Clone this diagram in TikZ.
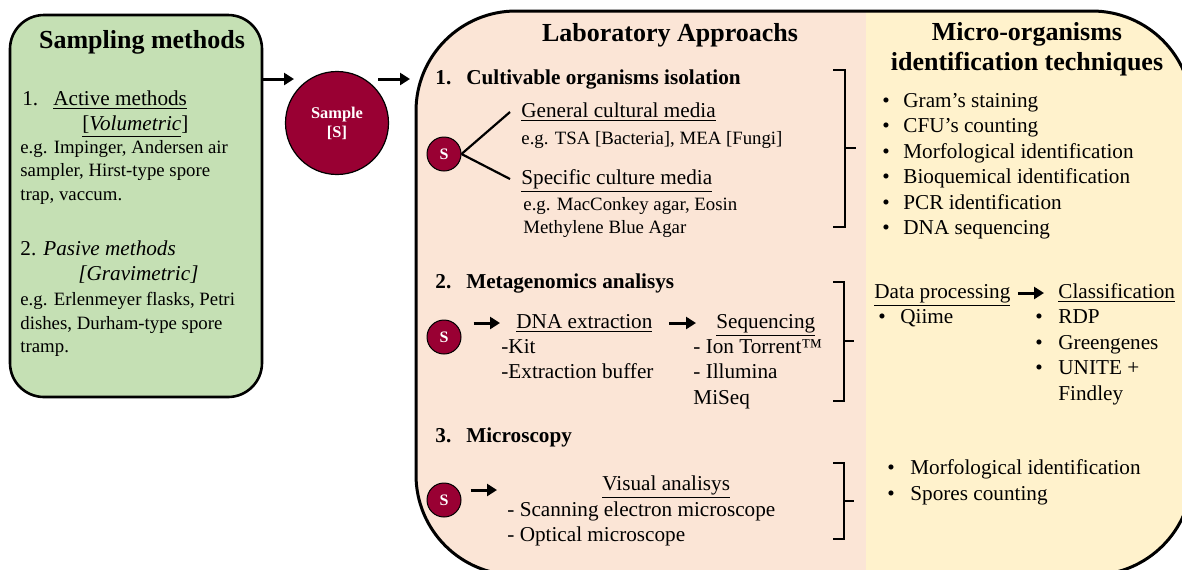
\documentclass[tikz,border=0pt]{standalone}
\usepackage{fontspec}
\setmainfont{Liberation Serif}
\usepackage{tikz}
\usetikzlibrary{arrows.meta,positioning,calc}
\definecolor{sampgreen}{HTML}{C5E0B4}
\definecolor{labpink}{HTML}{FBE5D6}
\definecolor{techyellow}{HTML}{FFF2CC}
\definecolor{samplered}{HTML}{990033}
\newcommand{\bul}[1][11.5pt]{\makebox[#1][l]{\textbullet}}

\begin{document}
\begin{tikzpicture}[x=0.5pt,y=-0.5pt,
  every node/.style={font=\fontsize{10.6}{12.75}\selectfont},
  hdr/.style={font=\fontsize{13}{15}\selectfont\bfseries, align=center},
  txt/.style={anchor=west, inner sep=0pt, text height=7.5pt, text depth=2.2pt},
  sec/.style={txt, font=\fontsize{10.6}{12.75}\selectfont\bfseries},
  lst/.style={anchor=north west, inner sep=0pt, align=left},
  eg/.style={font=\fontsize{9.4}{11.75}\selectfont},
  sdot/.style={circle, draw=black, line width=0.5pt, fill=samplered, text=white,
    minimum size=17pt, inner sep=0pt, font=\fontsize{8}{9}\selectfont\bfseries},
  arr/.style={line width=1.5pt, -{Triangle[length=5pt,width=6pt]}},
  brk/.style={line width=1pt}]
\useasboundingbox (0,0) rectangle (1182,569);

% sampling box
\node[draw, line width=1.3pt, fill=sampgreen, rounded corners=17pt,
  minimum width=126pt, minimum height=191pt] (sampling) at (136,206) {};
\node[hdr] (samphdr) at (142,42) {Sampling methods};
\node[txt] (act) at (22,100) {1.\hspace{7.5pt}\underline{Active methods}};
\node[txt] (vol) at (82,125) {\underline{[\textit{Volumetric}}]};
\node[lst, eg] (actex) at (20,140)
  {e.g. Impinger, Andersen air\\sampler, Hirst-type spore\\trap, vaccum.};
\node[txt] (pas) at (20,250) {2. \textit{Pasive methods}};
\node[txt] (grav) at (78,275) {\textit{[Gravimetric]}};
\node[lst, eg] (pasex) at (20,292)
  {e.g. Erlenmeyer flasks, Petri\\dishes, Durham-type spore\\tramp.};

% sample
\node[circle, draw=black, line width=0.6pt, fill=samplered, text=white, minimum size=51.5pt,
  align=center, font=\fontsize{8.2}{9.5}\selectfont\bfseries] (sample) at (337,123) {Sample\\{[S]}};
\coordinate (in1) at (294,79);
\coordinate (out1) at (378,79);
\coordinate (in2) at (410,79);
\draw[arr] (sampling.east |- in1) -- (in1);
\draw[arr] (out1) -- (in2);

% laboratory box
\begin{scope}
\clip (0,0) rectangle (1182,569);
\begin{scope}
\clip[rounded corners=50pt] (416,11) rectangle (1192,575);
\fill[labpink] (416,11) rectangle (866,575);
\fill[techyellow] (866,11) rectangle (1192,575);
\end{scope}
\draw[line width=1.5pt, rounded corners=50pt] (416,11) rectangle (1192,575);
\end{scope}
\node[hdr] (labhdr) at (670,35) {Laboratory Approachs};

% 1. cultivable
\node[sec] (cult) at (435,79) {1.\hspace{7.5pt}Cultivable organisms isolation};
\node[sdot] (s1) at (444,154) {S};
\node[txt] (gen) at (521,112) {\underline{General cultural media}};
\node[txt, eg] (genex) at (521,139) {e.g. TSA [Bacteria], MEA [Fungi]};
\node[txt] (spec) at (521,179) {\underline{Specific culture media}};
\node[lst, font=\fontsize{9.4}{11.3}\selectfont] (specex) at (523,197.5)
  {e.g. MacConkey agar, Eosin\\Methylene Blue Agar};
\draw[line width=1.1pt] (s1.east) -- ([xshift=-5.5pt]gen.west);
\draw[line width=1.1pt] (s1.east) -- ([xshift=-5.5pt]spec.west);
\draw[brk] (833,70) -- (845,70) -- (845,227) -- (833,227) (845,148) -- (856,148);

% 2. metagenomics
\node[sec] (meta) at (435,283) {2.\hspace{7.5pt}Metagenomics analisys};
\node[sdot] (s2) at (444,337) {S};
\node[txt] (dna) at (516,323) {\underline{DNA extraction}};
\node[txt] (seq) at (716,323) {\underline{Sequencing}};
\node[lst] (dnalist) at (501,339) {-Kit\\-Extraction buffer};
\node[lst] (seqlist) at (693,339) {- Ion Torrent™\\- Illumina\\MiSeq};
\draw[arr] ([xshift=6pt]s2.east |- dna.west) -- ([xshift=-8pt]dna.west);
\draw[arr] ([xshift=8pt]dna.east) -- ([xshift=-10pt]seq.west);
\draw[brk] (833,282) -- (844,282) -- (844,401) -- (833,401) (844,341) -- (854,341);

% 3. microscopy
\node[sec] (micro) at (435,437) {3.\hspace{7.5pt}Microscopy};
\node[sdot] (s3) at (444,500) {S};
\coordinate (s3end) at (497,490);
\node[txt] (vis) at (602,485) {\underline{Visual analisys}};
\node[lst] (vislist) at (507,501) {- Scanning electron microscope\\- Optical microscope};
\draw[arr] (s3.east |- s3end) ++(9,0) -- (s3end);
\draw[brk] (833,463) -- (844,463) -- (844,539) -- (833,539) (844,501) -- (854,501);

% identification techniques
\node[hdr] (techhdr) at (1027,49) {Micro-organisms\\identification techniques};
\node[lst] (idlist) at (882,92.5) {\bul[10.5pt]Gram’s staining\\\bul[10.5pt]CFU’s counting\\
  \bul[10.5pt]Morfological identification\\\bul[10.5pt]Bioquemical identification\\
  \bul[10.5pt]PCR identification\\\bul[10.5pt]DNA sequencing};
\node[txt] (dp) at (874,293) {\underline{Data processing}};
\node[txt] (cls) at (1058,293) {\underline{Classification}};
\draw[arr] ([xshift=3.5pt]dp.east) -- ([xshift=-7pt]cls.west);
\node[txt] (qiime) at (878,318) {\bul[11pt]Qiime};
\node[lst] (clslist) at (1035,309.5) {\bul RDP\\\bul Greengenes\\\bul UNITE +\\\hspace*{11.5pt}Findley};
\node[lst] (miclist) at (887,459.5) {\bul Morfological identification\\\bul Spores counting};
\end{tikzpicture}
\end{document}
